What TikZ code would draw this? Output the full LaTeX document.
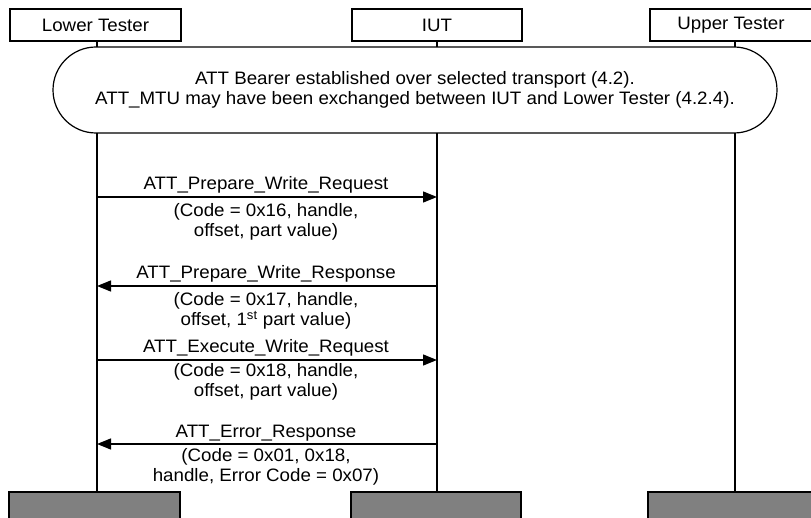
\documentclass[tikz,border=0pt]{standalone}
\usepackage{fontspec}
\setmainfont[FakeStretch=1.04]{Liberation Sans}
\usetikzlibrary{arrows.meta}
\tikzset{
  actor/.style={draw, line width=1.2pt, minimum height=32pt, inner sep=0pt},
  endbox/.style={draw, line width=1.2pt, fill=gray50, inner sep=0pt},
  lifeline/.style={line width=1.6pt},
  msg/.style={line width=1.3pt, -{Triangle[length=14pt,width=11pt]}},
  lbl/.style={inner sep=0pt, align=center, font=\fontsize{18pt}{20pt}\selectfont},
}
\definecolor{gray50}{HTML}{808080}
\begin{document}
\begin{tikzpicture}[x=1pt,y=-1pt]
\useasboundingbox (0,0) rectangle (811,518);
% actor boxes
\node[actor, minimum width=171pt, lbl] (lt) at (95.5,25) {Lower Tester};
\node[actor, minimum width=170pt, lbl] (iut) at (437,25) {IUT};
\node[actor, minimum width=162pt, lbl] (ut) at (731,25) {Upper Tester};
% end boxes
\node[endbox, minimum width=171pt, minimum height=30pt] (ltend) at (94.5,507) {};
\node[endbox, minimum width=170pt, minimum height=30pt] (iutend) at (436,507) {};
\node[endbox, minimum width=164pt, minimum height=30pt] (utend) at (730,507) {};
% bearer rounded box
\draw[line width=1.2pt, rounded corners=43pt] (53,47) rectangle (777,133);
\node[lbl] (bearer) at (415,90) {ATT Bearer established over selected transport (4.2).\\ATT\_MTU may have been exchanged between IUT and Lower Tester (4.2.4).};
% lifelines
\draw[lifeline] (97,41) -- (97,47);
\draw[lifeline] (437,41) -- (437,47);
\draw[lifeline] (735,41) -- (735,47);
\draw[lifeline] (97,133) -- (97,492);
\draw[lifeline] (437,133) -- (437,492);
\draw[lifeline] (735,133) -- (735,492);
% message endpoints
\coordinate (l1) at (97,197);  \coordinate (r1) at (437,197);
\coordinate (l2) at (97,286);  \coordinate (r2) at (437,286);
\coordinate (l3) at (97,360);  \coordinate (r3) at (437,360);
\coordinate (l4) at (97,444);  \coordinate (r4) at (437,444);
% messages
\draw[msg] (l1) -- (r1);
\node[lbl] (m1a) at (266,185) {ATT\_Prepare\_Write\_Request};
\node[lbl] (m1b) at (266,222) {(Code = 0x16, handle,\\offset, part value)};
\draw[msg] (r2) -- (l2);
\node[lbl] (m2a) at (266,274) {ATT\_Prepare\_Write\_Response};
\node[lbl] (m2b) at (266,311) {(Code = 0x17, handle,\\offset, 1\textsuperscript{st} part value)};
\draw[msg] (l3) -- (r3);
\node[lbl] (m3a) at (266,348) {ATT\_Execute\_Write\_Request};
\node[lbl] (m3b) at (266,382) {(Code = 0x18, handle,\\offset, part value)};
\draw[msg] (r4) -- (l4);
\node[lbl] (m4a) at (266,433) {ATT\_Error\_Response};
\node[lbl] (m4b) at (266,467) {(Code = 0x01, 0x18,\\handle, Error Code = 0x07)};
\end{tikzpicture}
\end{document}
